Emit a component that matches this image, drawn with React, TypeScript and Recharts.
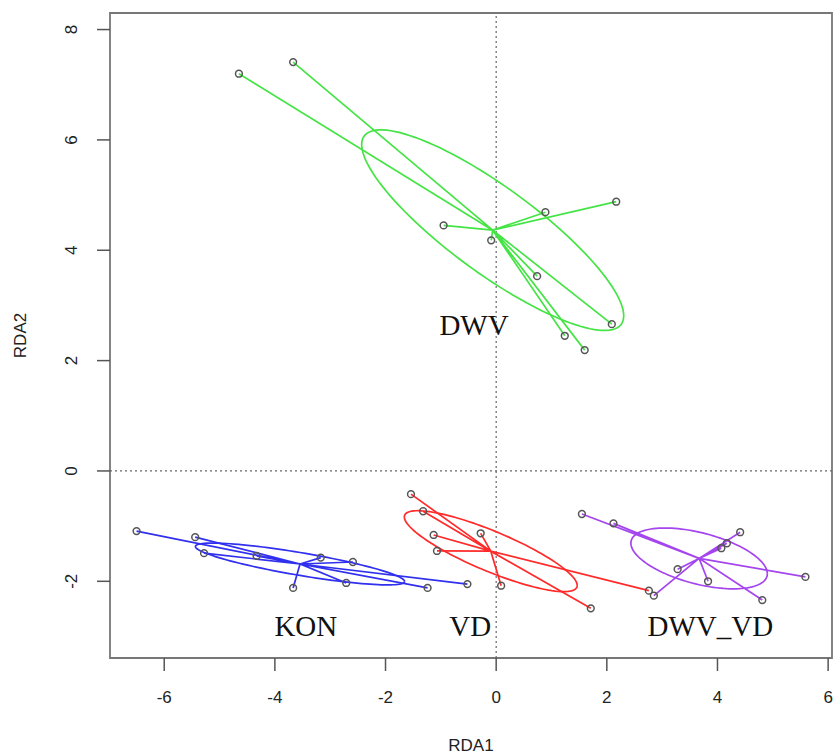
import React from 'react';
import { ScatterChart, Scatter, XAxis, YAxis, ReferenceLine, ReferenceArea } from 'recharts';

// site scores, per treatment group
const dwvX = [-4.65, -3.67, -0.95, -0.09, 0.89, 2.17, 0.74, 2.09, 1.24, 1.6];
const dwvY = [7.2, 7.41, 4.45, 4.18, 4.69, 4.88, 3.53, 2.66, 2.45, 2.19];
const konX = [-6.5, -5.44, -5.28, -4.33, -3.17, -2.59, -2.71, -3.67, -1.24, -0.52];
const konY = [-1.09, -1.2, -1.49, -1.54, -1.57, -1.65, -2.03, -2.12, -2.12, -2.05];
const vdX = [-1.54, -1.32, -1.13, -1.07, -0.28, 0.09, 1.71, 2.76];
const vdY = [-0.42, -0.73, -1.16, -1.45, -1.13, -2.08, -2.49, -2.17];
const dwvVdX = [1.55, 2.12, 4.41, 4.17, 4.07, 3.28, 3.83, 5.59, 4.81, 2.85];
const dwvVdY = [-0.78, -0.95, -1.11, -1.31, -1.4, -1.78, -2.0, -1.92, -2.34, -2.26];

const groupNames = ['DWV', 'KON', 'VD', 'DWV_VD'];
const groupColors = ['#45e445', '#3030ee', '#ff2a2a', '#a545ee'];
const groupXs = [dwvX, konX, vdX, dwvVdX];
const groupYs = [dwvY, konY, vdY, dwvVdY];

// text labels placed under each group
const labelX = [-0.4, -3.44, -0.47, 3.87];
const labelY = [2.64, -2.81, -2.81, -2.81];

const xTicks = [-6, -4, -2, 0, 2, 4, 6];
const yTicks = [-2, 0, 2, 4, 6, 8];
const xDomain = [-6.98, 6.07];
const yDomain = [-3.39, 8.3];

const axisFont = "'Liberation Sans Narrow', 'Liberation Sans', Arial, sans-serif";

type Pt = { x: number; y: number };

const mean = (v: number[]) => v.reduce((a, b) => a + b, 0) / v.length;

const makeGroup = (xs: number[], ys: number[]) => {
  const pts: Pt[] = xs.map((x, i) => ({ x, y: ys[i] }));
  const mx = mean(xs);
  const my = mean(ys);
  const c = { x: mx, y: my };
  const spider = pts.flatMap((p) => [c, p]);
  // 1-sd ellipse from the sample covariance (like ordiellipse kind="sd")
  const n = xs.length;
  let sxx = 0, syy = 0, sxy = 0;
  pts.forEach((p) => {
    sxx += (p.x - mx) ** 2;
    syy += (p.y - my) ** 2;
    sxy += (p.x - mx) * (p.y - my);
  });
  sxx /= n - 1; syy /= n - 1; sxy /= n - 1;
  const a = Math.sqrt(sxx);
  const b = sxy / a;
  const d = Math.sqrt(Math.max(syy - b * b, 0));
  const ellipse: Pt[] = [];
  for (let i = 0; i <= 120; i++) {
    const t = (i / 120) * Math.PI * 2;
    ellipse.push({ x: mx + a * Math.cos(t), y: my + b * Math.cos(t) + d * Math.sin(t) });
  }
  return { pts, spider, ellipse };
};

const groups = groupNames.map((name, i) => ({
  name,
  color: groupColors[i],
  ...makeGroup(groupXs[i], groupYs[i]),
}));

const labels = groupNames.map((name, i) => ({ x: labelX[i], y: labelY[i], name }));

const NoShape = () => <g />;

const OpenCircle = (props: any) => (
  <circle cx={props.cx} cy={props.cy} r={3.4} fill="none" stroke="#555" strokeWidth={1.5} />
);

const GroupLabel = (props: any) => (
  <text
    x={props.cx}
    y={props.cy}
    textAnchor="middle"
    dominantBaseline="central"
    fontFamily="'Liberation Serif', 'Times New Roman', serif"
    fontSize={29}
    fill="#111"
  >
    {props.payload.name}
  </text>
);

const XTick = (props: any) => (
  <text x={props.x} y={props.y + 26} textAnchor="middle" dominantBaseline="central"
    fontFamily={axisFont} fontSize={17} fill="#222">
    {props.payload.value}
  </text>
);

const YTick = (props: any) => (
  <text x={props.x - 25} y={props.y} textAnchor="middle" dominantBaseline="central"
    fontFamily={axisFont} fontSize={17} fill="#222"
    transform={`rotate(-90, ${props.x - 25}, ${props.y})`}>
    {props.payload.value}
  </text>
);

const XTitle = (props: any) => {
  const vb = props.viewBox;
  return (
    <text x={vb.x + vb.width / 2} y={745} textAnchor="middle" dominantBaseline="central"
      fontFamily={axisFont} fontSize={17} fill="#222">RDA1</text>
  );
};

const YTitle = (props: any) => {
  const vb = props.viewBox;
  const cy = vb.y + vb.height / 2;
  return (
    <text x={20} y={cy} textAnchor="middle" dominantBaseline="central"
      fontFamily={axisFont} fontSize={17} fill="#222" transform={`rotate(-90, 20, ${cy})`}>RDA2</text>
  );
};

const App: React.FC = () => {
  return (
    <div style={{ position: 'absolute', left: 0, top: 0, width: 833, height: 756, background: '#fff' }}>
      <ScatterChart width={833} height={756} margin={{ top: 13, right: 1, bottom: 0, left: 0 }}>
        <XAxis
          type="number"
          dataKey="x"
          domain={xDomain}
          ticks={xTicks}
          allowDataOverflow
          height={98}
          tickSize={13}
          tickMargin={0}
          axisLine={false}
          tickLine={{ stroke: '#555', strokeWidth: 1.5 }}
          tick={<XTick />}
          label={{ content: <XTitle /> }}
        />
        <YAxis
          type="number"
          dataKey="y"
          domain={yDomain}
          ticks={yTicks}
          allowDataOverflow
          width={110}
          tickSize={13}
          tickMargin={0}
          axisLine={false}
          tickLine={{ stroke: '#555', strokeWidth: 1.5 }}
          tick={<YTick />}
          label={{ content: <YTitle /> }}
        />
        <ReferenceArea x1={xDomain[0]} x2={xDomain[1]} y1={yDomain[0]} y2={yDomain[1]}
          fill="none" stroke="#777" strokeWidth={1.8} fillOpacity={0} />
        <ReferenceLine x={0} stroke="#666" strokeDasharray="2 3" strokeWidth={1.2} />
        <ReferenceLine y={0} stroke="#666" strokeDasharray="2 3" strokeWidth={1.2} />
        {groups.map((g) => (
          <Scatter key={g.name + '-ell'} data={g.ellipse} line={{ stroke: g.color, strokeWidth: 1.7 }}
            lineType="joint" shape={<NoShape />} isAnimationActive={false} />
        ))}
        {groups.map((g) => (
          <Scatter key={g.name + '-spider'} data={g.spider} line={{ stroke: g.color, strokeWidth: 1.7 }}
            lineType="joint" shape={<NoShape />} isAnimationActive={false} />
        ))}
        {groups.map((g) => (
          <Scatter key={g.name + '-pts'} data={g.pts} shape={<OpenCircle />} isAnimationActive={false} />
        ))}
        <Scatter data={labels} shape={<GroupLabel />} isAnimationActive={false} />
      </ScatterChart>
    </div>
  );
};

export default App;
